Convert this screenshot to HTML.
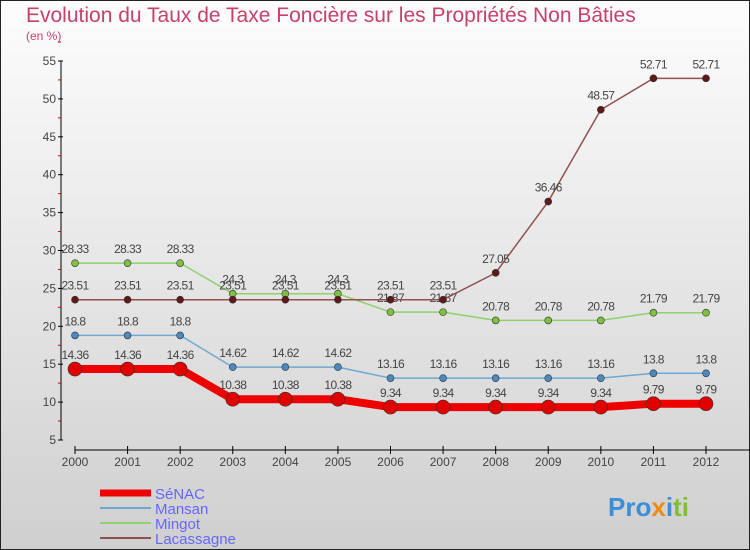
<!DOCTYPE html>
<html><head><meta charset="utf-8"><style>
body{margin:0}
#c{width:750px;height:550px;position:relative;font-family:"Liberation Sans",sans-serif;overflow:hidden}
</style></head><body>
<div id="c">
<svg id="s" width="750" height="550" xmlns="http://www.w3.org/2000/svg">
<defs><linearGradient id="bg" x1="0" y1="0" x2="0" y2="1"><stop offset="0" stop-color="#fdfdfd"/><stop offset="1" stop-color="#cfcfcf"/></linearGradient></defs>
<rect x="0.5" y="0.5" width="749" height="549" fill="url(#bg)" stroke="#222"/>
<text x="26" y="22" font-size="21" fill="#c8406a">Evolution du Taux de Taxe Foncière sur les Propriétés Non Bâties</text>
<text x="26" y="40" font-size="12" fill="#c8406a">(en %)</text>
<g id="axes"></g><g id="series"></g>
<g>
<line x1="100" y1="493" x2="151" y2="493" stroke="#e00" stroke-width="7"/>
<text x="155" y="499" font-size="15" fill="#6666ff">SéNAC</text>
<line x1="100" y1="508" x2="151" y2="508" stroke="#6fa8d0" stroke-width="2"/>
<text x="155" y="514" font-size="15" fill="#6666ff">Mansan</text>
<line x1="100" y1="523" x2="151" y2="523" stroke="#90d070" stroke-width="2"/>
<text x="155" y="529" font-size="15" fill="#6666ff">Mingot</text>
<line x1="100" y1="538" x2="151" y2="538" stroke="#905050" stroke-width="2"/>
<text x="155" y="544" font-size="15" fill="#6666ff">Lacassagne</text>
</g>
<text x="608" y="516" font-size="26" font-weight="bold"><tspan fill="#3a8fd8">Pro</tspan><tspan fill="#f08a10">x</tspan><tspan fill="#3a8fd8">i</tspan><tspan fill="#80c030">ti</tspan></text>
</svg>
</div>
<script>
const years=[2000,2001,2002,2003,2004,2005,2006,2007,2008,2009,2010,2011,2012];
const yTicks=[5,10,15,20,25,30,35,40,45,50,55];
const senac=[14.36,14.36,14.36,10.38,10.38,10.38,9.34,9.34,9.34,9.34,9.34,9.79,9.79];
const mansan=[18.8,18.8,18.8,14.62,14.62,14.62,13.16,13.16,13.16,13.16,13.16,13.8,13.8];
const mingot=[28.33,28.33,28.33,24.3,24.3,24.3,21.87,21.87,20.78,20.78,20.78,21.79,21.79];
const lacassagne=[23.51,23.51,23.51,23.51,23.51,23.51,23.51,23.51,27.05,36.46,48.57,52.71,52.71];
const NS="http://www.w3.org/2000/svg";
const X=i=>75+i*(631/(years.length-1));
const Y=v=>440-(v-5)*7.58;
function mk(t,a,p){const e=document.createElementNS(NS,t);for(const k in a)e.setAttribute(k,a[k]);p.appendChild(e);return e;}
const ax=document.getElementById('axes');
const yl=mk('line',{x1:61,y1:Y(55),x2:61,y2:Y(5),stroke:'#000'},ax);


yTicks.forEach(v=>{
 mk('line',{x1:58,y1:Y(v),x2:63,y2:Y(v),stroke:'#000'},ax);
 mk('line',{x1:58,y1:Y(v+2.5),x2:61,y2:Y(v+2.5),stroke:'#d00'},ax);
 const t=mk('text',{x:56,y:Y(v)+4,'font-size':12,fill:'#444','text-anchor':'end'},ax);t.textContent=v;
 
 
});
const xl=mk('line',{x1:75,y1:450,x2:750,y2:450,stroke:'#000'},ax);


years.forEach((y,i)=>{
 mk('line',{x1:X(i),y1:446,x2:X(i),y2:454,stroke:'#000'},ax);
 const t=mk('text',{x:X(i),y:466,'font-size':12,fill:'#444','text-anchor':'middle'},ax);t.textContent=y;
 
 
});
const sg=document.getElementById('series');
function draw(name,data,color,w,r,dot){
 const g=mk('g',{},sg);
 
 
 mk('polyline',{points:data.map((v,i)=>X(i)+','+Y(v)).join(' '),fill:'none',stroke:color,'stroke-width':w,'stroke-linejoin':'round'},g);
 data.forEach((v,i)=>{
  const c=mk('circle',{cx:X(i),cy:Y(v),r:r,fill:dot,stroke:'#333','stroke-width':0.6},g);
  
  
  const t=mk('text',{x:X(i),y:Y(v)-10,'font-size':12,fill:'#444','text-anchor':'middle','letter-spacing':'-0.6'},g);t.textContent=v;
  
  
 });
}
draw('mingot',mingot,'#90d070',1.5,3.5,'#80c040');
draw('lacassagne',lacassagne,'#905050',1.5,3.5,'#601818');
draw('mansan',mansan,'#6fa8d0',1.5,3.5,'#4a8ac0');
draw('senac',senac,'#ee0000',8,7,'#e00000');
</script>
</body></html>
